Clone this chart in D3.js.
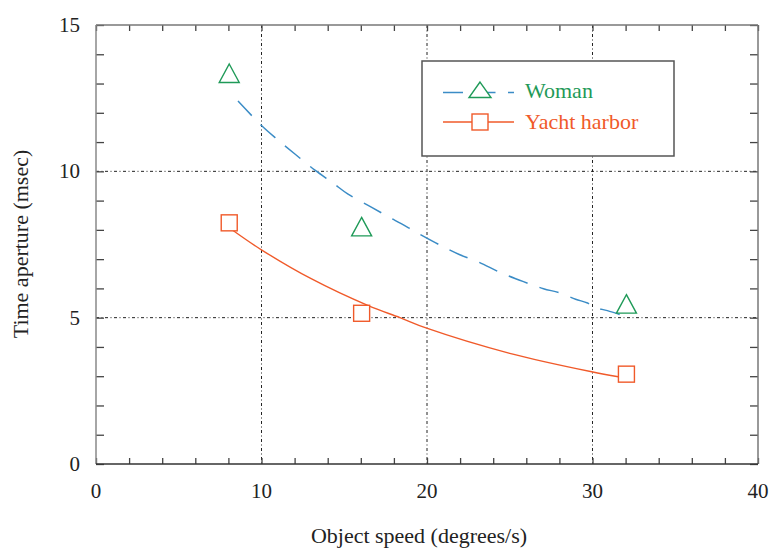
<!DOCTYPE html>
<html><head><meta charset="utf-8">
<script src="https://cdn.jsdelivr.net/npm/d3@7"></script>
<style>body{margin:0;background:#fff}svg{display:block}</style>
</head><body>
<svg id="c" width="769" height="549"></svg>
<script>
// ---- data ----
const speeds = [8.05, 16.05, 32.05];
const womanValues = [13.35, 8.11, 5.47];
const yachtValues = [8.24, 5.15, 3.07];
const womanFitX = [8.58, 10.03, 11.0, 12.0, 13.23, 14.32, 15.23, 16.66, 17.72, 18.41, 19.47, 20.89, 21.95, 23.16, 24.44, 25.83, 27.04, 28.0, 28.98, 29.7, 30.1, 30.9, 31.7];
const womanFitY = [12.40, 11.55, 11.07, 10.6, 10.04, 9.60, 9.22, 8.77, 8.43, 8.22, 7.88, 7.45, 7.16, 6.89, 6.54, 6.23, 5.99, 5.85, 5.63, 5.5, 5.36, 5.24, 5.10];
const yachtFitX = [8.28, 10.02, 13.0, 16.45, 18.37, 19.98, 25.0, 29.95, 31.56];
const yachtFitY = [7.98, 7.31, 6.33, 5.41, 5.0, 4.64, 3.78, 3.15, 2.98];
const xTicks = [0, 10, 20, 30, 40];
const yTicks = [0, 5, 10, 15];
const seriesNames = ["Woman", "Yacht harbor"];
const xTitle = "Object speed (degrees/s)";
const yTitle = "Time aperture (msec)";

const blue = "#3b8cc6", green = "#1f9a58", orange = "#f05a2a";
const font = "'Liberation Serif', 'Times New Roman', serif";

const svg = d3.select("#c");
const L = 96, R = 758, T = 25, B = 464;
const x = d3.scaleLinear().domain([0, 40]).range([L, R]);
const y = d3.scaleLinear().domain([0, 15]).range([B, T]);

// grid
const gridDash = "3,2.5,1,2.5";
svg.append("g").selectAll("line").data(xTicks.filter(d => d > 0 && d < 40)).join("line")
  .attr("x1", d => x(d)).attr("x2", d => x(d)).attr("y1", T).attr("y2", B)
  .attr("stroke", "#222").attr("stroke-width", 1).attr("stroke-dasharray", gridDash);
svg.append("g").selectAll("line").data(yTicks.filter(d => d > 0 && d < 15)).join("line")
  .attr("y1", d => y(d)).attr("y2", d => y(d)).attr("x1", L).attr("x2", R)
  .attr("stroke", "#222").attr("stroke-width", 1).attr("stroke-dasharray", gridDash);

// minor ticks via axes
const xMinor = d3.range(0, 41, 2);
const yMinor = d3.range(0, 16, 1);
function styleAxis(g) {
  g.select(".domain").remove();
  g.selectAll(".tick text").remove();
  g.selectAll(".tick line").attr("stroke", "#444").attr("stroke-width", 1.3);
}
svg.append("g").attr("transform", `translate(0,${B})`)
  .call(d3.axisTop(x).tickValues(xMinor).tickSize(6)).call(styleAxis);
svg.append("g").attr("transform", `translate(0,${T})`)
  .call(d3.axisBottom(x).tickValues(xMinor).tickSize(6)).call(styleAxis);
svg.append("g").attr("transform", `translate(${L},0)`)
  .call(d3.axisRight(y).tickValues(yMinor).tickSize(8)).call(styleAxis);
svg.append("g").attr("transform", `translate(${R},0)`)
  .call(d3.axisLeft(y).tickValues(yMinor).tickSize(8)).call(styleAxis);

// frame
svg.append("line").attr("x1", L).attr("x2", R).attr("y1", T).attr("y2", T).attr("stroke", "#777").attr("stroke-width", 1.5);
svg.append("line").attr("x1", R).attr("x2", R).attr("y1", T).attr("y2", B).attr("stroke", "#777").attr("stroke-width", 1.5);
svg.append("line").attr("x1", L).attr("x2", L).attr("y1", T).attr("y2", B).attr("stroke", "#888").attr("stroke-width", 1.5);
svg.append("line").attr("x1", L).attr("x2", R).attr("y1", B).attr("y2", B).attr("stroke", "#333").attr("stroke-width", 1.5);

// tick labels
svg.append("g").selectAll("text").data(xTicks).join("text")
  .attr("x", d => x(d)).attr("y", 498).attr("text-anchor", "middle")
  .attr("font-family", font).attr("font-size", 21).attr("fill", "#222").text(d => d);
svg.append("g").selectAll("text").data(yTicks).join("text")
  .attr("x", 80).attr("y", d => y(d) + 7).attr("text-anchor", "end")
  .attr("font-family", font).attr("font-size", 21).attr("fill", "#222").text(d => d);

// titles
svg.append("text").attr("x", 419).attr("y", 543).attr("text-anchor", "middle")
  .attr("font-family", font).attr("font-size", 22).attr("fill", "#222").text(xTitle);
svg.append("text").attr("transform", "translate(28,244) rotate(-90)").attr("text-anchor", "middle")
  .attr("font-family", font).attr("font-size", 22).attr("fill", "#222").text(yTitle);

// fit curves
const line = d3.line().x(d => x(d[0])).y(d => y(d[1])).curve(d3.curveCatmullRom);
svg.append("path").datum(d3.zip(womanFitX, womanFitY)).attr("d", line)
  .attr("fill", "none").attr("stroke", blue).attr("stroke-width", 1.5).attr("stroke-dasharray", "20,12.5");
svg.append("path").datum(d3.zip(yachtFitX, yachtFitY)).attr("d", line)
  .attr("fill", "none").attr("stroke", orange).attr("stroke-width", 1.4);

// markers
const tri = (w, h) => `M0,${-h/2}L${w/2},${h/2}L${-w/2},${h/2}Z`;
svg.append("g").selectAll("path").data(d3.zip(speeds, womanValues)).join("path")
  .attr("transform", d => `translate(${x(d[0])},${y(d[1])})`).attr("d", tri(20, 18.5))
  .attr("fill", "none").attr("stroke", green).attr("stroke-width", 1.4);
svg.append("g").selectAll("rect").data(d3.zip(speeds, yachtValues)).join("rect")
  .attr("x", d => x(d[0]) - 8).attr("y", d => y(d[1]) - 8).attr("width", 16).attr("height", 16)
  .attr("fill", "#fff").attr("stroke", orange).attr("stroke-width", 1.4);

// legend
const lg = svg.append("g");
lg.append("rect").attr("x", 422).attr("y", 61).attr("width", 252).attr("height", 95)
  .attr("fill", "#fff").attr("stroke", "#555").attr("stroke-width", 1.5);
lg.append("line").attr("x1", 443).attr("x2", 514).attr("y1", 92.5).attr("y2", 92.5)
  .attr("stroke", blue).attr("stroke-width", 1.5).attr("stroke-dasharray", "20,12.5");
lg.append("path").attr("transform", "translate(480,89.8)").attr("d", tri(22, 15.5))
  .attr("fill", "#fff").attr("stroke", green).attr("stroke-width", 1.4);
lg.append("text").attr("x", 525).attr("y", 98).attr("font-family", font).attr("font-size", 22)
  .attr("fill", green).text(seriesNames[0]);
lg.append("line").attr("x1", 443).attr("x2", 514).attr("y1", 122).attr("y2", 122)
  .attr("stroke", orange).attr("stroke-width", 1.4);
lg.append("rect").attr("x", 472).attr("y", 114).attr("width", 16).attr("height", 16)
  .attr("fill", "#fff").attr("stroke", orange).attr("stroke-width", 1.4);
lg.append("text").attr("x", 525).attr("y", 129).attr("font-family", font).attr("font-size", 22)
  .attr("fill", orange).text(seriesNames[1]);
</script>
</body></html>
